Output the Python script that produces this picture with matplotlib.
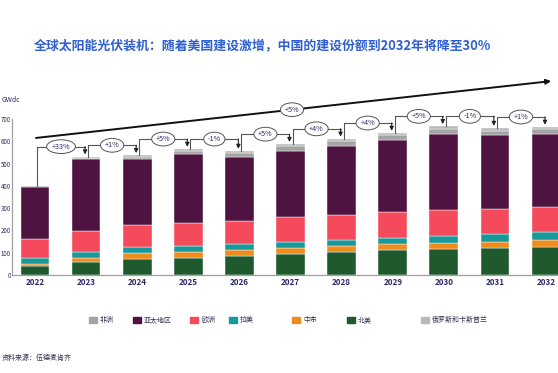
import matplotlib
matplotlib.use("Agg")
import matplotlib.pyplot as plt
import numpy as np
from matplotlib.patches import Rectangle

plt.rcParams['font.family'] = ['Noto Sans CJK SC', 'DejaVu Sans']

years = ["2022", "2023", "2024", "2025", "2026", "2027", "2028", "2029", "2030", "2031", "2032"]
north_america = [42, 60, 72, 78, 85, 94, 103, 111, 118, 123, 127]
middle_east = [9, 15, 25, 24, 26, 27, 27, 27, 25, 26, 30]
latam = [24, 30, 30, 30, 28, 28, 28, 29, 33, 35, 34]
europe = [85, 91, 96, 103, 102, 111, 110, 114, 115, 112, 112]
apac = [236, 323, 296, 306, 288, 298, 313, 326, 343, 330, 329]
africa = [2, 8, 12, 16, 18, 19, 20, 20, 22, 22, 22]
russia = [1, 4, 6, 8, 9, 10, 10, 10, 11, 11, 10]
growth_labels = ["+33%", "+1%", "+5%", "-1%", "+5%", "+4%", "+4%", "+5%", "-1%", "+1%"]
trend_label = "+5%"
yticks = [0, 100, 200, 300, 400, 500, 600, 700]

series = [
    ("北美", north_america, "#1f5a2e"),
    ("中东", middle_east, "#ee8c1c"),
    ("拉美", latam, "#17989b"),
    ("欧洲", europe, "#f5495c"),
    ("亚太地区", apac, "#4e1340"),
    ("非洲", africa, "#a3a3a3"),
    ("俄罗斯和卡斯普兰", russia, "#b9b9b9"),
]

W, H = 558, 373
fig = plt.figure(figsize=(W / 100, H / 100), dpi=100)
fig.patch.set_facecolor("white")

# axes placement (pixels)
ax_left_px, ax_bottom_px, ax_top_px = 12, 275, 119
ax_right_px = 12 + 10.95 * 51.1
ax = fig.add_axes([ax_left_px / W, 1 - ax_bottom_px / H,
                   (ax_right_px - ax_left_px) / W, (ax_bottom_px - ax_top_px) / H])
ax.set_xlim(-0.45, 10.5)
ax.set_ylim(0, 700)

x = np.arange(len(years))
bottom = np.zeros(len(years))
for name, vals, col in series:
    v = np.array(vals, dtype=float)
    ax.bar(x, v, bottom=bottom, width=0.56, color=col, edgecolor="white", linewidth=0.3, zorder=2)
    bottom += v
totals = bottom.copy()

navy = "#2b2b6b"
for s in ["top", "right"]:
    ax.spines[s].set_visible(False)
for s in ["left", "bottom"]:
    ax.spines[s].set_color("#a0a0a0")
    ax.spines[s].set_linewidth(0.9)
ax.set_xticks(x)
ax.set_xticklabels(years, fontsize=5.8, color=navy, fontweight="bold")
ax.set_yticks(yticks)
ax.set_yticklabels([str(t) for t in yticks], fontsize=4.4, color=navy)
ax.tick_params(axis="both", length=0)
ax.tick_params(axis="x", pad=2.5)
ax.tick_params(axis="y", pad=0.8)

# connectors
cc = "#555555"
for i, lab in enumerate(growth_labels):
    t0, t1 = totals[i], totals[i + 1]
    level = max(t0, t1) + 45
    xs = i + 0.04
    xe = i + 1 - 0.02
    ax.plot([xs, xs, xe], [t0, level, level], color=cc, lw=0.8, clip_on=False, zorder=3)
    ax.annotate("", xy=(xe, t1 + 10), xytext=(xe, level),
                arrowprops=dict(arrowstyle="-|>", color="#222222", lw=0.8,
                                mutation_scale=6, shrinkA=0, shrinkB=0),
                annotation_clip=False, zorder=3)
    ax.text((xs + xe) / 2, level, lab, ha="center", va="center", fontsize=5.2, color=navy,
            bbox=dict(boxstyle="ellipse,pad=0.12", fc="white", ec="#555555", lw=0.7),
            clip_on=False, zorder=4)

# trend arrow
ax.annotate("", xy=(10.1, 870), xytext=(0.02, 615),
            arrowprops=dict(arrowstyle="-|>", color="#111111", lw=1.4, mutation_scale=7,
                            shrinkA=0, shrinkB=0),
            annotation_clip=False, zorder=3)
ax.text(5.03, 615 + (870 - 615) * (5.03 - 0.02) / (10.1 - 0.02), trend_label,
        ha="center", va="center", fontsize=5.2, color=navy,
        bbox=dict(boxstyle="ellipse,pad=0.12", fc="white", ec="#555555", lw=0.7),
        clip_on=False, zorder=4)

# title
fig.text(262 / W, 1 - 45 / H, "全球太阳能光伏装机：随着美国建设激增，中国的建设份额到2032年将降至30%",
         ha="center", va="center", fontsize=9.3, fontweight="bold", color="#2f5fd0")

# unit label
fig.text(2 / W, 1 - 100 / H, "GWdc", ha="left", va="center", fontsize=5, color=navy)

# legend (manual)
leg_order = ["非洲", "亚太地区", "欧洲", "拉美", "中东", "北美", "俄罗斯和卡斯普兰"]
leg_x = [93, 137, 194, 233, 296, 351, 425]
colmap = {n: c for n, _, c in series}
for name, lx in zip(leg_order, leg_x):
    fig.patches.append(Rectangle(((lx - 4) / W, 1 - 323 / H), 8 / W, 6 / H,
                                 transform=fig.transFigure, color=colmap[name]))
    fig.text((lx + 7) / W, 1 - 320 / H, name, ha="left", va="center", fontsize=5, color="#333355")

# source
fig.text(2 / W, 1 - 358 / H, "资料来源：伍德麦肯齐", ha="left", va="center", fontsize=5, color="#333355")

fig.savefig("out.png", dpi=100)
